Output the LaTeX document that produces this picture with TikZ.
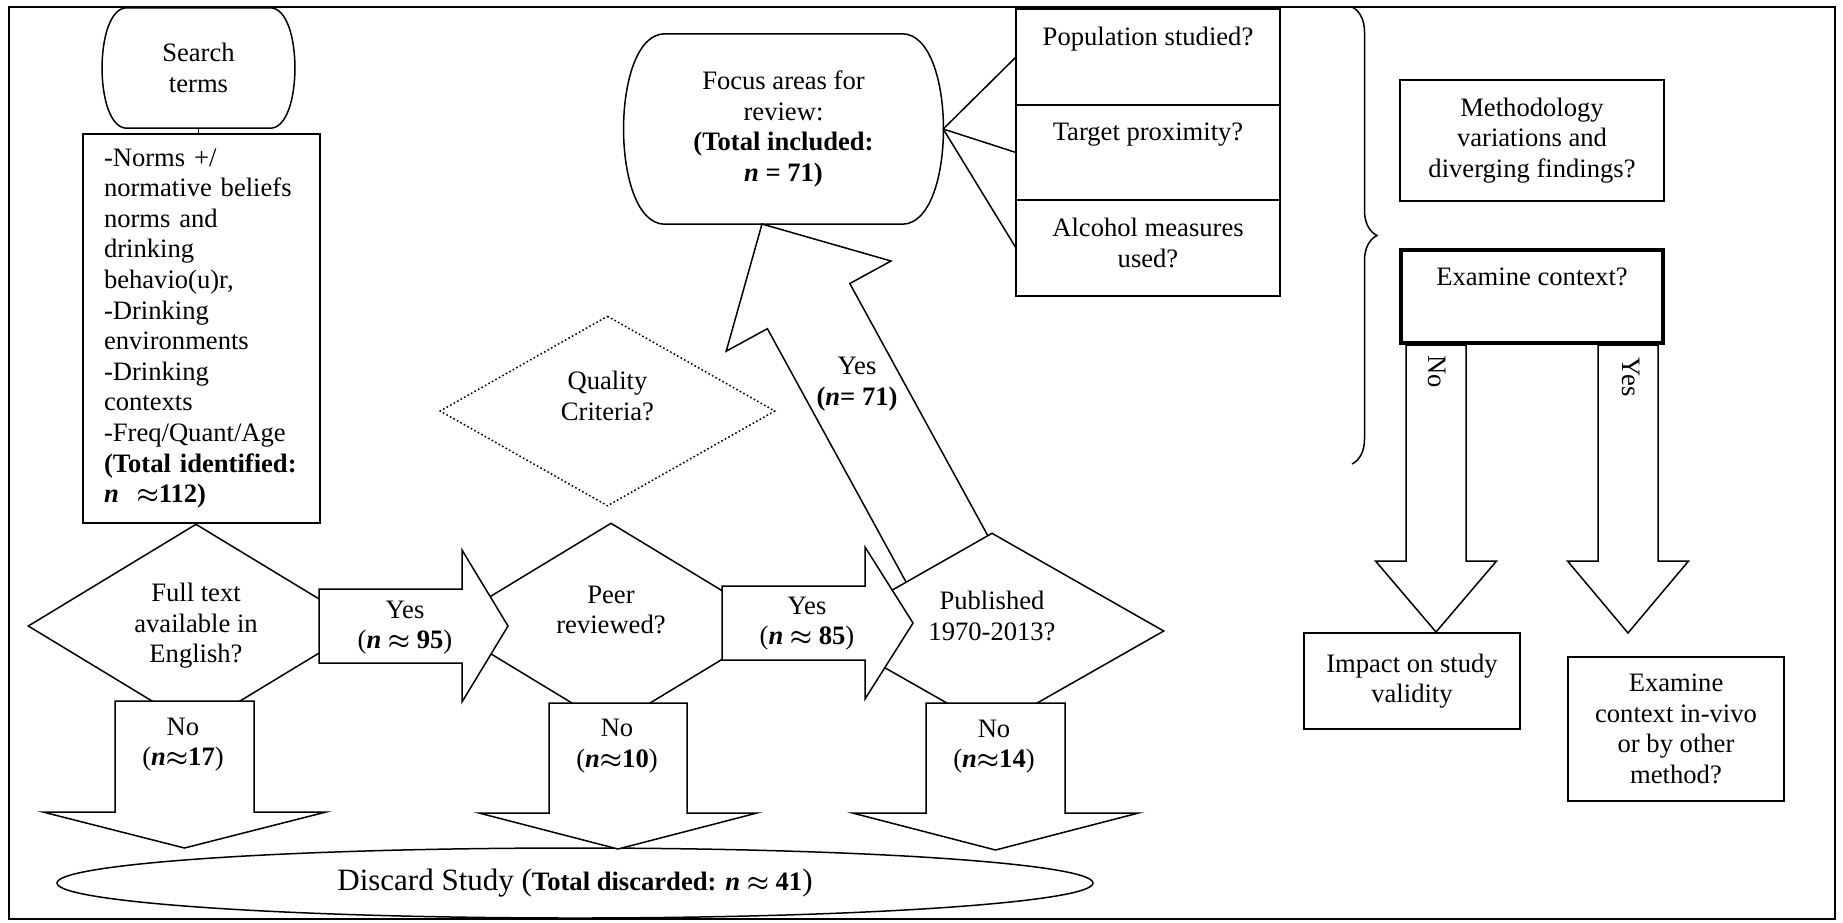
\documentclass[tikz,border=0pt]{standalone}
\usepackage{amsmath}
\usepackage{fontspec}
\setmainfont{Liberation Serif}
\usepackage{tikz}
\usetikzlibrary{positioning, shapes.geometric, calc, decorations.pathreplacing}

\begin{document}
\begin{tikzpicture}[
  x=1pt, y=-1pt,
  every node/.style={font=\fontsize{26.6}{30.6}\selectfont, inner sep=0pt, align=center},
  thinline/.style={line width=1.5pt},
  plainbox/.style={draw, fill=white, thinline, rectangle, outer sep=0pt},
  decision/.style={diamond, draw, fill=white, thinline, shape aspect=1.65,
    minimum width=336, minimum height=204},
  blockarrow/.style={draw, fill=white, thinline, line join=miter}
]
\def\bn{\textbf{\textit{n}}}
\def\apx{$\boldsymbol{\approx}$}
% block arrows: x start, x head, x tip, y centre
\def\blockright#1#2#3#4{%
  \draw[blockarrow] (#1,#4-37) -- (#2,#4-37) -- (#2,#4-76) -- (#3,#4)
    -- (#2,#4+76) -- (#2,#4+37) -- (#1,#4+37) -- cycle;
}
% x centre, y top, y head, y tip, half body, half head
\def\blockdown#1#2#3#4#5#6{%
  \draw[blockarrow] (#1-#5,#2) -- (#1+#5,#2) -- (#1+#5,#3) -- (#1+#6,#3)
    -- (#1,#4) -- (#1-#6,#3) -- (#1-#5,#3) -- cycle;
}
\useasboundingbox (0,0) rectangle (1843,922);
\draw[line width=1.6pt] (9,7) rectangle (1835,919);

% search terms
\node[minimum width=143, minimum height=120] (search) at (198.5,68) {Search\\terms};
\draw[thinline] (search.north west) -- (search.north east)
  .. controls +(33,0) and +(33,0) .. (search.south east) -- (search.south west)
  .. controls +(-33,0) and +(-33,0) .. (search.north west) -- cycle;
\node[plainbox, text width=195, inner xsep=21, minimum height=389, align=left] (norms) at (201.5,328.5)
  {-Norms +/\\normative beliefs\\norms and\\drinking\\behavio(u)r,\\-Drinking\\environments\\
   -Drinking\\contexts\\-Freq/Quant/Age\\\textbf{(Total identified:}\\\bn\ \ \apx\textbf{112)}};
\draw[thinline] (search.south) -- (search.south |- norms.north);

% discard
\node[ellipse, draw, thinline, minimum width=1036, minimum height=70] (discard) at (575,883)
  {{\fontsize{31}{36}\selectfont Discard Study (}\textbf{Total discarded: \textit{n}} \apx\ \textbf{41}{\fontsize{31}{36}\selectfont )}};

% included
\draw[blockarrow] (762,224) -- (891,261) -- (849.8,283.5) -- (1004.8,566.7)
  -- (922.4,611.9) -- (767.4,328.7) -- (726.2,351.2) -- cycle;
\node[minimum width=237, minimum height=190] (focus) at (783.5,129)
  {Focus areas for\\review:\\\textbf{(Total included:}\\\textbf{\textit{n} = 71)}};
\draw[thinline] (focus.north west) -- (focus.north east)
  .. controls +(55,0) and +(55,0) .. (focus.south east) -- (focus.south west)
  .. controls +(-55,0) and +(-55,0) .. (focus.north west) -- cycle;
\coordinate (focustip) at ([xshift=41pt]focus.east);

\node[plainbox, minimum width=264, minimum height=96] (pop) at (1148,57) {};
\node[plainbox, minimum width=264, minimum height=95, below=0pt of pop] (target) {};
\node[plainbox, minimum width=264, minimum height=96, below=0pt of target] (alc) {};
\node[below=18pt of pop.north] (poptext) {Population studied?};
\node[below=18pt of target.north] (targettext) {Target proximity?};
\node[below=18pt of alc.north] (alctext) {Alcohol measures\\used?};
\foreach \q in {pop, target, alc}
  \draw[thinline] (focustip) -- (\q.west);

% screening
\node[decision, draw=none, minimum width=333, minimum height=188] (quality) at (607.5,411) {Quality\\Criteria?\\\mbox{}};
\draw[thinline, dash pattern=on 1.6pt off 2.4pt]
  (quality.north) -- (quality.east) -- (quality.south) -- (quality.west) -- cycle;
\node[decision] (english) at (196,626) {Full text\\available in\\English?};
\node[decision] (peer) at (611,625) {Peer\\reviewed?\\\mbox{}};
\node[decision, minimum width=344, minimum height=196] (published) at (992,631) {Published\\1970-2013?\\\mbox{}};

\blockright{319}{462}{508}{626}
\blockright{722}{865}{913}{623}
\blockdown{184.5}{701}{812}{848}{69.5}{141.5}
\blockdown{618}{703}{813}{849}{69}{139}
\blockdown{995.5}{703}{813}{850}{69.5}{143}

\node (yes1) at (405,627.5) {Yes\\(\bn\ \apx\ \textbf{95})};
\node (yes2) at (807,623.5) {Yes\\(\bn\ \apx\ \textbf{85})};
\node (no1) at (183,744.5) {No\\(\bn\apx\textbf{17})};
\node (no2) at (617,746) {No\\(\bn\apx\textbf{10})};
\node (no3) at (994,746.5) {No\\(\bn\apx\textbf{14})};
\node (yes71) at (857,384) {Yes\\\textbf{(\textit{n}= 71)}};

% context
\draw[thinline, decorate, decoration={brace, amplitude=25pt}] (1352,7) -- (1352,464);
\node[plainbox, minimum width=264, minimum height=121] (method) at (1532,140.5)
  {Methodology\\variations and\\diverging findings?};
\blockdown{1436}{345}{561}{632}{30}{60.5}
\blockdown{1628}{345}{561}{633}{30}{60.5}
\node[plainbox, line width=4pt, minimum width=262, minimum height=93] (context) at (1532,296.5) {};
\node[below=18pt of context.north] (contexttext) {Examine context?};
\node[rotate=-90] (notext) at (1437,372) {No};
\node[rotate=-90] (yestext) at (1631,377) {Yes};
\node[plainbox, minimum width=216, minimum height=96] (impact) at (1412,681) {Impact on study\\validity};
\node[plainbox, minimum width=216, minimum height=144] (invivo) at (1676,729)
  {Examine\\context in-vivo\\or by other\\method?};
\end{tikzpicture}
\end{document}
